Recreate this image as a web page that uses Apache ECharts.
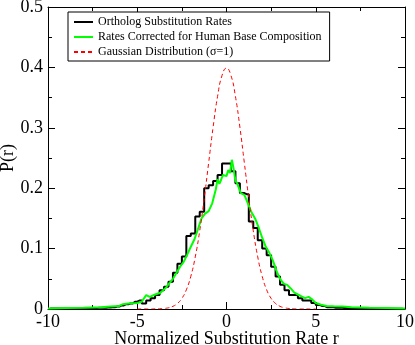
<!DOCTYPE html>
<html>
<head>
<meta charset="utf-8">
<script src="https://cdn.jsdelivr.net/npm/echarts@6/dist/echarts.min.js"></script>
<style>
  html, body { margin: 0; padding: 0; background: #fff; }
  #chart { width: 415px; height: 345px; }
</style>
</head>
<body>
<div id="chart"></div>
<script>
// histogram: bins of width 0.25 starting at -10
const binStart = -10
const binWidth = 0.25
const histValues = [
  0.0008, 0.0008, 0.0008, 0.001, 0.001, 0.001, 0.0012, 0.0012,
  0.0015, 0.0015, 0.0018, 0.002, 0.002, 0.0025, 0.003, 0.004,
  0.006, 0.008, 0.009, 0.012, 0.014, 0.009, 0.014, 0.018,
  0.023, 0.031, 0.037, 0.045, 0.060, 0.075, 0.087, 0.121,
  0.125, 0.153, 0.161, 0.200, 0.205, 0.212, 0.222, 0.241,
  0.241, 0.228, 0.208, 0.192, 0.190, 0.145, 0.134, 0.114,
  0.100, 0.089, 0.070, 0.054, 0.040, 0.031, 0.023, 0.023,
  0.018, 0.014, 0.014, 0.010, 0.0066, 0.005, 0.003, 0.0028,
  0.002, 0.002, 0.0015, 0.0015, 0.0012, 0.0012, 0.001, 0.001,
  0.001, 0.0008, 0.0008, 0.0008, 0.0005, 0.0005, 0.0005, 0.0005
]

// corrected rates (green)
const corrX = [
  -10, -9, -8, -7, -6.5, -6, -5.8, -5.5, -5, -4.75,
  -4.5, -4.3, -4, -3.7, -3.4, -3.2, -3, -2.8, -2.6, -2.4,
  -2.2, -2, -1.8, -1.6, -1.4, -1.2, -1.0, -0.8, -0.6, -0.5,
  -0.4, -0.3, -0.2, -0.1, 0, 0.1, 0.2, 0.3, 0.4, 0.5,
  0.6, 0.8, 1.0, 1.2, 1.4, 1.6, 1.8, 2.0, 2.2, 2.4,
  2.6, 2.8, 3.0, 3.2, 3.4, 3.6, 3.8, 4.0, 4.2, 4.4,
  4.6, 4.8, 5.0, 5.3, 5.6, 6, 6.5, 7, 8, 9, 10
]
const corrY = [
  0.001, 0.0015, 0.002, 0.003, 0.004, 0.005, 0.008, 0.009, 0.010, 0.012,
  0.023, 0.020, 0.024, 0.027, 0.035, 0.043, 0.050, 0.060, 0.070, 0.078,
  0.090, 0.103, 0.115, 0.132, 0.150, 0.158, 0.162, 0.175, 0.198, 0.215,
  0.207, 0.214, 0.222, 0.219, 0.220, 0.230, 0.225, 0.247, 0.232, 0.212,
  0.208, 0.192, 0.189, 0.175, 0.160, 0.150, 0.135, 0.118, 0.103, 0.093,
  0.080, 0.063, 0.050, 0.042, 0.040, 0.034, 0.027, 0.024, 0.021, 0.018,
  0.020, 0.016, 0.010, 0.007, 0.005, 0.0045, 0.004, 0.003, 0.002, 0.0015, 0.001
]

// gaussian, sigma = 1 (red dashed)
const gaussX = [
  -5, -4.75, -4.5, -4.25, -4, -3.75, -3.5, -3.25, -3, -2.75, -2.5,
  -2.25, -2, -1.75, -1.5, -1.25, -1, -0.75, -0.5, -0.25, 0,
  0.25, 0.5, 0.75, 1, 1.25, 1.5, 1.75, 2, 2.25, 2.5,
  2.75, 3, 3.25, 3.5, 3.75, 4, 4.25, 4.5, 4.75, 5
]
const gaussY = [
  0.0000015, 0.000005, 0.000016, 0.000049, 0.000134, 0.000353, 0.000873, 0.002029, 0.004432, 0.009094, 0.017528,
  0.031740, 0.053991, 0.086277, 0.129518, 0.182649, 0.241971, 0.301137, 0.352065, 0.386668, 0.398942,
  0.386668, 0.352065, 0.301137, 0.241971, 0.182649, 0.129518, 0.086277, 0.053991, 0.031740, 0.017528,
  0.009094, 0.004432, 0.002029, 0.000873, 0.000353, 0.000134, 0.000049, 0.000016, 0.000005, 0.0000015
]

const seriesNames = [
  'Ortholog Substitution Rates',
  'Rates Corrected for Human Base Composition',
  'Gaussian Distribution (σ=1)'
]

const font = 'Liberation Serif'
const histData = histValues.map(function (v, i) {
  return [binStart + binWidth * (i + 0.5), v]
})
const corrData = corrX.map(function (x, i) { return [x, corrY[i]] })
const gaussData = gaussX.map(function (x, i) { return [x, gaussY[i]] })

// frame axis, ticks pointing inward (used on all four sides)
function frameAxis(pos, isX) {
  return {
    type: 'value',
    position: pos,
    min: isX ? -10 : 0,
    max: isX ? 10 : 0.5,
    interval: isX ? 5 : 0.1,
    axisLine: { show: true, onZero: false, lineStyle: { color: '#000', width: 1 } },
    axisTick: { show: true, inside: true, length: 7, lineStyle: { color: '#000' } },
    minorTick: { show: true, splitNumber: 2, length: 4, lineStyle: { color: '#000' } },
    splitLine: { show: false },
    axisLabel: { show: false }
  }
}

const chart = echarts.init(document.getElementById('chart'))
const xMain = frameAxis('bottom', true)
xMain.axisLabel = { show: true, fontFamily: font, fontSize: 18, color: '#000', margin: 4 }
xMain.name = 'Normalized Substitution Rate r'
xMain.nameLocation = 'middle'
xMain.nameGap = 21
xMain.nameMoveOverlap = false
xMain.nameTextStyle = { fontFamily: font, fontSize: 18, color: '#000' }

const yMain = frameAxis('left', false)
yMain.axisLabel = { show: true, fontFamily: font, fontSize: 18, color: '#000', margin: 5 }
yMain.name = 'P(r)'
yMain.nameLocation = 'middle'
yMain.nameGap = 31
yMain.nameMoveOverlap = false
yMain.nameTextStyle = { fontFamily: font, fontSize: 18, color: '#000' }

chart.setOption({
  animation: false,
  backgroundColor: '#fff',
  grid: { left: 48, right: 10, top: 7, bottom: 36, outerBoundsMode: 'none' },
  xAxis: [xMain, frameAxis('top', true)],
  yAxis: [yMain, frameAxis('right', false)],
  legend: {
    orient: 'vertical',
    left: 68,
    top: 12,
    itemWidth: 19,
    itemHeight: 12,
    itemGap: 3,
    itemStyle: { opacity: 0 },
    padding: [4, 8, 3, 5],
    backgroundColor: '#fff',
    borderColor: '#000',
    borderWidth: 1,
    textStyle: { fontFamily: font, fontSize: 12, color: '#000' },
    data: seriesNames
  },
  series: [
    {
      name: seriesNames[0],
      type: 'line',
      step: 'middle',
      symbol: 'none',
      data: histData,
      lineStyle: { color: '#000', width: 2 },
      itemStyle: { color: '#000' }
    },
    {
      name: seriesNames[1],
      type: 'line',
      symbol: 'none',
      data: corrData,
      lineStyle: { color: '#00ff00', width: 2 },
      itemStyle: { color: '#00ff00' }
    },
    {
      name: seriesNames[2],
      type: 'line',
      symbol: 'none',
      smooth: true,
      data: gaussData,
      lineStyle: { color: '#ff0000', width: 1, type: [4, 3] },
      itemStyle: { color: '#ff0000' }
    }
  ]
})
</script>
</body>
</html>
